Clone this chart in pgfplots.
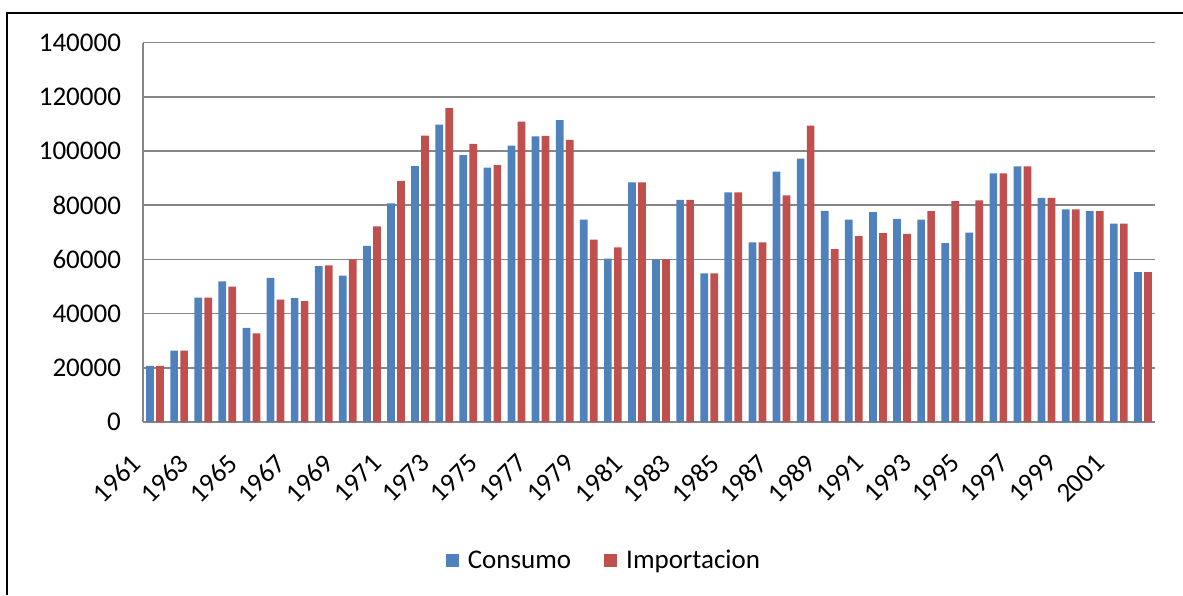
\documentclass[border=0pt]{standalone}
\usepackage{fontspec}
\setmainfont{Carlito}
\usepackage{pgfplots}
\pgfplotsset{compat=1.18}
\usepackage{pgfplotstable}

\definecolor{consumo}{HTML}{4F81BD}
\definecolor{import}{HTML}{C0504D}
\definecolor{gridgray}{HTML}{868686}

% year, consumo, importacion
\pgfplotstableread{
year cons imp
1961 20700 20700
1962 26300 26300
1963 45900 45900
1964 51900 50000
1965 34700 32700
1966 53200 45200
1967 45700 44600
1968 57500 57800
1969 54000 60000
1970 65000 72200
1971 80700 89000
1972 94400 105700
1973 109700 115800
1974 98500 102600
1975 93900 94800
1976 102000 110800
1977 105400 105600
1978 111400 104100
1979 74700 67300
1980 60300 64400
1981 88400 88400
1982 60000 60000
1983 82000 82000
1984 54800 54800
1985 84700 84700
1986 66300 66300
1987 92400 83600
1988 97200 109400
1989 77900 63800
1990 74700 68600
1991 77400 69700
1992 75000 69400
1993 74700 77800
1994 66000 81500
1995 69900 81800
1996 91700 91700
1997 94300 94300
1998 82700 82700
1999 78500 78500
2000 77800 77800
2001 73200 73200
2002 55300 55300
}\datatable

\begin{document}
\begin{tikzpicture}
\useasboundingbox (0,0) rectangle (591.5pt,297.5pt);
% chart frame (cut off at right and bottom)
\draw[black, line width=1pt] (3.5pt,0pt) -- (3.5pt,290.75pt) -- (591.5pt,290.75pt);

\begin{axis}[
  at={(71.5pt,86.5pt)}, anchor=south west,
  scale only axis,
  width=506pt, height=189.7pt,
  ybar=1.15pt, bar width=3.85pt,
  xmin=1960.5, xmax=2002.5,
  ymin=0, ymax=140000,
  scaled y ticks=false,
  ytick={0,20000,40000,60000,80000,100000,120000,140000},
  yticklabels={0,20000,40000,60000,80000,100000,120000,140000},
  xtick={1961,1963,...,2001},
  xticklabels={1961,1963,1965,1967,1969,1971,1973,1975,1977,1979,1981,1983,1985,1987,1989,1991,1993,1995,1997,1999,2001},
  axis x line*=bottom, axis y line*=left,
  axis line style={gridgray, line width=0.75pt},
  ymajorgrids, major grid style={gridgray, line width=0.75pt},
  major tick length=0pt,
  tick label style={font=\fontsize{13.5}{14}\selectfont, black},
  yticklabel style={xshift=-7.5pt},
  xticklabel style={xshift=-7pt, yshift=-16pt, rotate=45, anchor=east},
  legend style={at={(0.4565,-0.366)}, anchor=center, draw=none,
    font=\fontsize{13.5}{14}\selectfont, legend columns=2,
    /tikz/every odd column/.append style={column sep=2.5pt},
    /tikz/every even column/.append style={column sep=14.5pt}},
  legend image code/.code={\fill[#1] (0pt,-3.25pt) rectangle (6.5pt,3.25pt);},
]
\addplot[fill=consumo, draw=none] table[x=year, y=cons] {\datatable};
\addplot[fill=import, draw=none] table[x=year, y=imp] {\datatable};
\legend{Consumo, Importacion}
\end{axis}
\end{tikzpicture}
\end{document}
